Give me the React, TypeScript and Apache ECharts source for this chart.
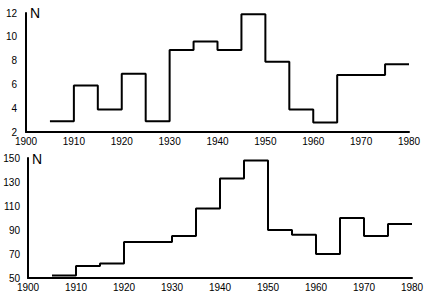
import React, { useEffect, useRef } from "react";
import * as echarts from "echarts";

const stepYears = [1905, 1910, 1915, 1920, 1925, 1930, 1935, 1940, 1945, 1950, 1955, 1960, 1965, 1970, 1975];
const endYear = 1980;
const topValues = [2.9, 5.9, 3.9, 6.9, 2.9, 8.9, 9.6, 8.9, 11.9, 7.9, 3.9, 2.8, 6.8, 6.8, 7.7];
const bottomValues = [52, 60, 62, 80, 80, 85, 108, 133, 148, 90, 86, 70, 100, 85, 95];
const axisName = "N";

const toSteps = (vals: number[]) => {
  const d = stepYears.map((y, i) => [y, vals[i]]);
  d.push([endYear, vals[vals.length - 1]]);
  return d;
};

const FONT = "Liberation Sans";

export default function App() {
  const ref = useRef<HTMLDivElement>(null);
  useEffect(() => {
    if (!ref.current) return;
    const chart = echarts.init(ref.current, undefined, { renderer: "svg" });
    const axisLine = { show: true, lineStyle: { color: "#000", width: 2 } };
    const label = { color: "#000", fontSize: 10, fontFamily: FONT, formatter: (v: number) => String(v) };
    const xAxisBase = {
      type: "value",
      min: 1900,
      max: 1980,
      interval: 10,
      axisLine,
      axisTick: { show: false },
      splitLine: { show: false },
      axisLabel: { ...label, margin: 4 },
    };
    chart.setOption({
      animation: false,
      grid: [
        { left: 26, top: 13, width: 383, height: 119 },
        { left: 28, top: 158, width: 384, height: 120 },
      ],
      xAxis: [
        { ...xAxisBase, gridIndex: 0 },
        { ...xAxisBase, gridIndex: 1 },
      ],
      yAxis: [
        {
          type: "value",
          gridIndex: 0,
          min: 2,
          max: 12,
          interval: 2,
          axisLine,
          axisTick: { show: false },
          splitLine: { show: false },
          axisLabel: { ...label, margin: 9 },
        },
        {
          type: "value",
          gridIndex: 1,
          min: 50,
          max: 150,
          interval: 20,
          axisLine,
          axisTick: { show: false },
          splitLine: { show: false },
          axisLabel: { ...label, margin: 8 },
        },
      ],
      graphic: [
        { type: "text", left: 30, top: 6, style: { text: axisName, fontSize: 14, fontFamily: FONT, fill: "#000" } },
        { type: "text", left: 32, top: 152, style: { text: axisName, fontSize: 14, fontFamily: FONT, fill: "#000" } },
      ],
      series: [
        {
          type: "line",
          xAxisIndex: 0,
          yAxisIndex: 0,
          step: "end",
          symbol: "none",
          data: toSteps(topValues),
          lineStyle: { color: "#000", width: 2 },
        },
        {
          type: "line",
          xAxisIndex: 1,
          yAxisIndex: 1,
          step: "end",
          symbol: "none",
          data: toSteps(bottomValues),
          lineStyle: { color: "#000", width: 2 },
        },
      ],
    });
    return () => chart.dispose();
  }, []);
  return <div ref={ref} style={{ width: 431, height: 300, position: "fixed", left: 0, top: 0, background: "#fff" }} />;
}
